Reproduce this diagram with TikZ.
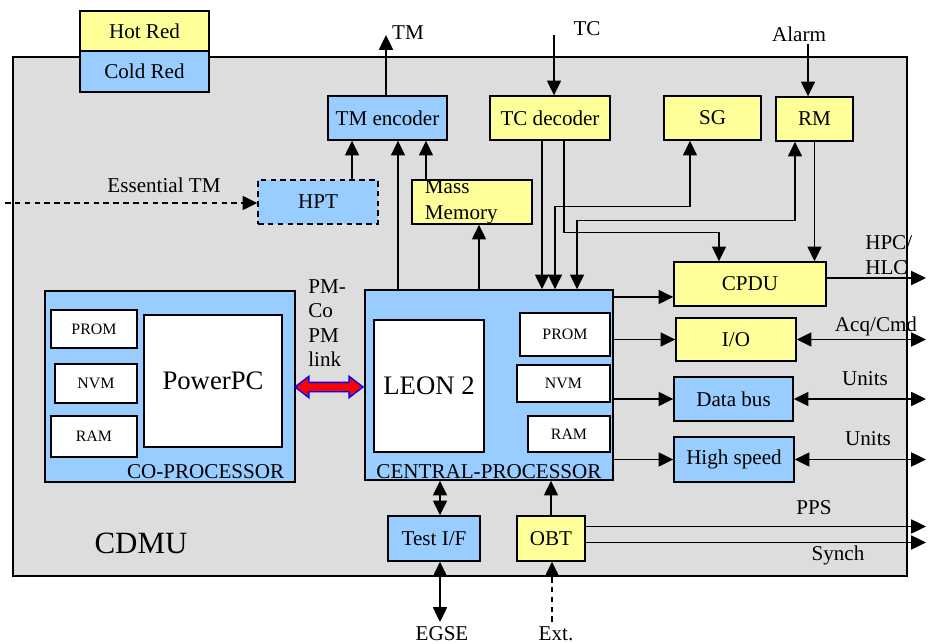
\documentclass[tikz,border=0pt]{standalone}
\usepackage{xcolor}
\usepackage{fontspec}
\setmainfont{Liberation Serif}
\definecolor{hotred}{HTML}{FFFF99}
\definecolor{coldred}{HTML}{99CCFF}
\definecolor{cdmugray}{HTML}{DDDDDD}
\usepackage{tikz}
\usetikzlibrary{arrows.meta}
\usetikzlibrary{shapes.arrows}

\tikzset{
    blk/.style 2 args={draw, line width=1pt, inner sep=0pt,
        minimum width=#1*0.025cm, minimum height=#2*0.025cm},
    hot/.style={fill=hotred},
    cold/.style={fill=coldred},
    mem/.style={fill=white, font=\fontsize{11.3}{13}\selectfont},
    lbl/.style={inner sep=0pt},
    arr/.style={line width=1pt, -{Triangle[length=10.5pt,width=10pt]}},
    arrr/.style={line width=1pt, {Triangle[length=10.5pt,width=10pt]}-{Triangle[length=10.5pt,width=10pt]}},
    brokenline/.style={dash pattern=on 4pt off 3pt},
}

\begin{document}
\begin{tikzpicture}[x=0.025cm, y=-0.025cm, font=\fontsize{15}{18}\selectfont]
            \useasboundingbox (0, 0) rectangle (928, 644);

            \node[blk={894}{519}, fill=cdmugray] (cdmu) at (460, 316.5) {};
            \node[font=\fontsize{22}{26}\selectfont] (cdmulbl) at (141, 543) {CDMU};

            \node[blk={129}{40}, hot] (hotred) at (144.5, 31) {Hot Red};
            \node[blk={129}{41}, cold] (coldred) at (144.5, 71.5) {Cold Red};

            \node[blk={119}{44}, cold] (tmenc) at (387.5, 118) {TM encoder};
            \node[blk={120}{44}, hot] (tcdec) at (550, 118) {TC decoder};
            \node[blk={97}{44}, hot] (sg) at (712.5, 118) {SG};
            \node[blk={77}{44}, hot] (rm) at (814.5, 119) {RM};
            \node[blk={120}{44}, cold, brokenline] (hpt) at (318, 202) {HPT};
            \node[blk={120}{44}, hot, align=left, text width=2.35cm] (mm) at (472, 202) {Mass\\Memory};

            % central processor
            \node[blk={248}{190}, cold] (cp) at (489, 385) {};
            \node[blk={110}{132}, fill=white, font=\fontsize{19}{22}\selectfont] (leon) at (429, 386) {LEON 2};
            \node[blk={90}{43}, mem] (cprom) at (565, 334.5) {PROM};
            \node[blk={93}{37}, mem] (cnvm) at (563.5, 383.5) {NVM};
            \node[blk={82}{36}, mem] (cram) at (569, 434) {RAM};
            \node[anchor=south, inner sep=1pt] (cplbl) at (cp.south) {CENTRAL-PROCESSOR};

            % co-processor
            \node[blk={250}{191}, cold] (cop) at (170, 386.5) {};
            \node[blk={138}{132}, fill=white, font=\fontsize{19}{22}\selectfont] (ppc) at (213, 381) {PowerPC};
            \node[blk={86}{38}, mem] (pprom) at (94, 329) {PROM};
            \node[blk={82}{39}, mem] (pnvm) at (96, 383.5) {NVM};
            \node[blk={86}{41}, mem] (pram) at (94, 436.5) {RAM};
            \node[anchor=south east, inner xsep=8pt, inner ysep=3pt] (coplbl) at (cop.south east) {CO-PROCESSOR};

            \node[double arrow, draw=blue, fill=red, line width=1pt, inner xsep=0pt, inner ysep=0.1cm,
                double arrow head extend=0.15cm, double arrow tip angle=75,
                minimum height=1.7cm] (pmlink) at (329, 387) {};
            \node[anchor=north west, align=left, inner sep=0pt,
                font=\fontsize{15}{17.5}\selectfont] (pmlbl) at (308, 279) {PM-\\Co\\PM\\link};

            \node[blk={152}{44}, hot] (cpdu) at (750, 284) {CPDU};
            \node[blk={120}{43}, hot] (io) at (736, 339.5) {I/O};
            \node[blk={119}{44}, cold] (dbus) at (733.5, 399) {Data bus};
            \node[blk={120}{45}, cold] (hs) at (734, 459.5) {High speed};

            \node[blk={92}{45}, cold] (testif) at (434, 538.5) {Test I/F};
            \node[blk={68}{45}, hot] (obt) at (551, 538.5) {OBT};

            % free ends
            \coordinate (tm) at (386, 35);
            \coordinate (tc) at (554, 35);
            \coordinate (alarm) at (808, 44);
            \coordinate (etm) at (5, 203);
            \coordinate (rim) at (926, 0);
            \coordinate (egse) at (440, 622);
            \coordinate (ext) at (552, 622);

            \node[lbl] (tmlbl) at (408, 33) {TM};
            \node[lbl] (tclbl) at (587, 29) {TC};
            \node[lbl] (alarmlbl) at (799, 34) {Alarm};
            \node[lbl] (etmlbl) at (164, 185) {Essential TM};
            \node[lbl, align=left, anchor=south west] (hpclbl) at (865, 275) {HPC/\\HLC};
            \node[lbl] (acqlbl) at (876, 326) {Acq/Cmd};
            \node[lbl] (units1) at (865, 379) {Units};
            \node[lbl] (units2) at (868, 439) {Units};
            \node[lbl] (ppslbl) at (814, 508) {PPS};
            \node[lbl] (synchlbl) at (838, 555) {Synch};
            \node[lbl] (egselbl) at (442, 634) {EGSE};
            \node[lbl] (extlbl) at (556, 634) {Ext.};

            \draw[arr] (tmenc.north -| tm) -- (tm);
            \draw[arr] (tc) -- (tc |- tcdec.north);
            \draw[arr] (alarm) -- (alarm |- rm.north);
            \draw[arr, brokenline] (etm) -- (etm -| hpt.west);

            \draw[arr] ([xshift=.85cm]hpt.north) -- ([xshift=.85cm]hpt.north |- tmenc.south);
            \draw[arr] ([xshift=-1.15cm]mm.north) -- ([xshift=-1.15cm]mm.north |- tmenc.south);
            \draw[arr] ([xshift=-2.275cm]cp.north) -- ([xshift=-2.275cm]cp.north |- tmenc.south);
            \draw[arr] ([xshift=-.25cm]cp.north) -- ([xshift=-.25cm]cp.north |- mm.south);

            \draw[arr] ([xshift=-.2cm]tcdec.south) -- ([xshift=-.2cm]tcdec.south |- cp.north);
            \draw[arr] ([xshift=.35cm]tcdec.south) -- ++(0, 92) -| ([xshift=-.775cm]cpdu.north);
            \draw[arrr] ([xshift=-.5625cm]sg.south) -- ++(0, 66) -| ([xshift=1.65cm]cp.north);
            \draw[arrr] ([xshift=-.4875cm]rm.south) -- ++(0, 79) -| ([xshift=2.2cm]cp.north);
            \draw[arr] (rm.south) -- (rm.south |- cpdu.north);

            \draw[arr] ([yshift=2.2cm]cp.east) -- ([yshift=2.2cm]cp.east -| cpdu.west);
            \draw[arr] ([yshift=.15cm]cpdu.east) -- ([yshift=.15cm]cpdu.east -| rim);
            \draw[arr] (cp.east |- io) -- (io.west);
            \draw[arrr] (io.east) -- (io.east -| rim);
            \draw[arr] (cp.east |- dbus) -- (dbus.west);
            \draw[arrr] (dbus.east) -- (dbus.east -| rim);
            \draw[arr] (cp.east |- hs) -- (hs.west);
            \draw[arrr] (hs.east) -- (hs.east -| rim);

            \draw[arr] ([yshift=.3cm]obt.east) -- ([yshift=.3cm]obt.east -| rim);
            \draw[arr] ([yshift=-.1cm]obt.east) -- ([yshift=-.1cm]obt.east -| rim);
            \draw[arrr] ([xshift=.15cm]testif.north) -- ([xshift=.15cm]testif.north |- cp.south);
            \draw[arrr] ([xshift=.15cm]testif.south) -- ([xshift=.15cm]testif.south |- egse);
            \draw[arr] (obt.north) -- (obt.north |- cp.south);
            \draw[arr, brokenline] (ext) -- (ext |- obt.south);
        \end{tikzpicture}
\end{document}
